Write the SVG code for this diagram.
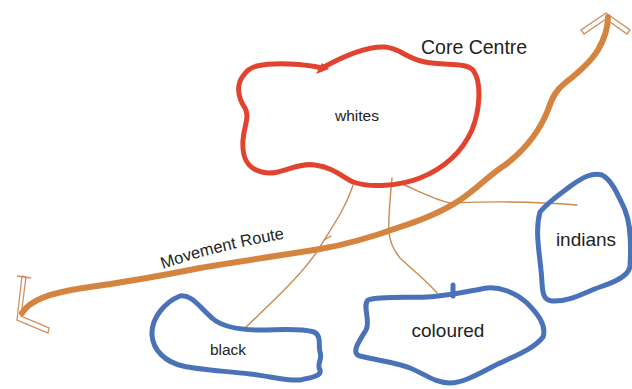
<svg xmlns="http://www.w3.org/2000/svg" width="632" height="389" viewBox="0 0 632 389">
<style>
.lbl{font-family:"Liberation Sans",Arial,sans-serif;fill:#222}
.red{fill:none;stroke:#e2432f;stroke-width:5;stroke-linejoin:round}
.blue{fill:none;stroke:#4a72b8;stroke-width:5;stroke-linejoin:round}
.route{fill:none;stroke:#d4843f;stroke-width:6;stroke-linecap:round}
.thin{fill:none;stroke:#c98a52;stroke-width:1.4;stroke-linecap:round}
.head{fill:none;stroke:#d38c5e;stroke-width:1.3;stroke-linejoin:miter}
</style>
<defs>
<path id="mrPath" d="M163,269 Q220,249 295,237"/>
</defs>
<g id="connectors">
<path class="thin" d="M353,185 C345,210 330,230 318,250 C305,270 285,290 245,328"/>
<path class="thin" d="M324,240 L331,236"/>
<path class="thin" d="M392,178 C390,200 388,220 389,232 C390,245 395,252 400,258 C415,272 428,282 437,293"/>
<path class="thin" d="M400,183 C420,192 435,200 450,203 C475,202 520,200 577,205"/>
</g>
<g id="movement-route">
<path class="route" d="M22,313 C30,300 50,293 83,288 C120,283 160,276 200,268 C240,261 290,254 320,249 C350,244 375,236 400,227 C425,219 445,210 460,200 C478,188 488,176 505,165 C525,150 540,130 548,110 C552,98 556,90 565,83 C578,73 590,63 598,50 C605,38 608,28 608,17"/>
<path class="head" d="M606,13 L581,30 L584,34 L606,19 L627,34 L630,30 Z"/>
<path class="head" d="M17,320 L22,276 L26,277 L21,316 L49,328 L48,333 Z"/>
<path class="head" d="M17,276 L31,278"/>
<text class="lbl" font-size="16.5"><textPath href="#mrPath">Movement Route</textPath></text>
</g>
<g id="whites">
<path class="red" d="M257,66 C275,62 305,64 322,68 C340,58 365,46 385,47 C400,48 405,58 425,62 C445,66 465,62 473,70 C482,82 480,110 472,130 C462,152 445,168 420,178 C400,186 370,188 353,182 C340,176 335,168 315,165 C295,162 280,177 262,172 C245,168 242,155 243,140 C244,125 250,118 245,108 C238,98 236,85 243,76 C247,70 252,67 257,66 Z"/>
<path d="M316,74 L322,63 L329,69 Z" fill="#e2432f"/>
<text class="lbl" x="357" y="121" font-size="15.5" text-anchor="middle">whites</text>
<text class="lbl" x="421" y="54" font-size="19.5">Core Centre</text>
</g>
<g id="black">
<path class="blue" d="M180,296 C192,294 200,308 212,318 C222,327 240,330 260,330 C280,330 300,328 314,332 C322,336 318,345 320,352 C323,360 316,364 320,370 C322,376 310,378 300,380 C285,381 270,376 250,374 C225,371 200,370 183,366 C165,362 153,350 152,335 C151,318 165,302 180,296 Z"/>
<text class="lbl" x="228" y="355" font-size="15.5" text-anchor="middle">black</text>
</g>
<g id="coloured">
<path class="blue" d="M368,300 C380,296 405,298 427,297 C445,296 465,292 487,288 C500,287 515,292 527,303 C537,313 547,325 543,337 C535,348 515,356 500,363 C485,370 465,383 450,383 C435,383 425,374 410,368 C395,362 375,360 360,356 C350,353 360,340 366,330 C371,321 362,306 368,300 Z"/>
<path d="M453,285 L453,296" stroke="#4a72b8" stroke-width="5" stroke-linecap="round"/>
<text class="lbl" x="448" y="337" font-size="19" text-anchor="middle">coloured</text>
</g>
<g id="indians">
<path class="blue" d="M540,212 C548,202 560,194 572,185 C582,178 592,172 602,175 C612,180 618,195 625,210 C632,228 631,250 630,266 C629,276 615,282 600,287 C585,292 570,302 552,301 C540,300 543,285 541,270 C539,250 535,230 540,212 Z"/>
<text class="lbl" x="586" y="246" font-size="19" text-anchor="middle">indians</text>
</g>
</svg>
